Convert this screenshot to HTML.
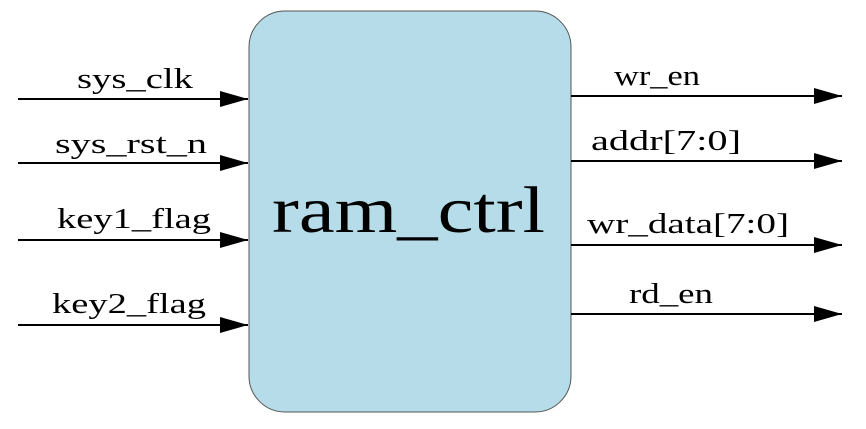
<!DOCTYPE html>
<html><head><meta charset="utf-8"><style>html,body{margin:0;padding:0;background:#fff}</style></head>
<body>
<svg width="866" height="424" xmlns="http://www.w3.org/2000/svg" font-family="'Liberation Serif','Noto Serif CJK SC',serif" fill="#000">
<defs><marker id="a" markerWidth="28" markerHeight="16" refX="28" refY="8" orient="auto" markerUnits="userSpaceOnUse"><path d="M0,0 L28,8 L0,16 z" fill="#000"/></marker></defs>
<rect x="249" y="11" width="322" height="401" rx="36" ry="36" fill="#b5dce8" stroke="#555" stroke-width="1"/>
<g stroke="#000" stroke-width="2" marker-end="url(#a)">
<line x1="18" y1="99" x2="248" y2="99"/>
<line x1="18" y1="163" x2="248" y2="163"/>
<line x1="18" y1="240" x2="248" y2="240"/>
<line x1="18" y1="325" x2="248" y2="325"/>
<line x1="571" y1="96" x2="842" y2="96"/>
<line x1="571" y1="161" x2="842" y2="161"/>
<line x1="571" y1="245" x2="842" y2="245"/>
<line x1="571" y1="314" x2="842" y2="314"/>
</g>
<g font-size="29">
<text x="77" y="88" textLength="116" lengthAdjust="spacingAndGlyphs">sys_clk</text>
<text x="55" y="153" textLength="152" lengthAdjust="spacingAndGlyphs">sys_rst_n</text>
<text x="57" y="228" textLength="154" lengthAdjust="spacingAndGlyphs">key1_flag</text>
<text x="52" y="313" textLength="154" lengthAdjust="spacingAndGlyphs">key2_flag</text>
<text x="614" y="85" textLength="86" lengthAdjust="spacingAndGlyphs">wr_en</text>
<text x="591" y="150" textLength="150" lengthAdjust="spacingAndGlyphs">addr[7:0]</text>
<text x="587" y="233" textLength="202" lengthAdjust="spacingAndGlyphs">wr_data[7:0]</text>
<text x="629" y="303" textLength="84" lengthAdjust="spacingAndGlyphs">rd_en</text>
</g>
<text x="272" y="232" font-size="66" textLength="273" lengthAdjust="spacingAndGlyphs">ram_ctrl</text>
</svg>
</body></html>
